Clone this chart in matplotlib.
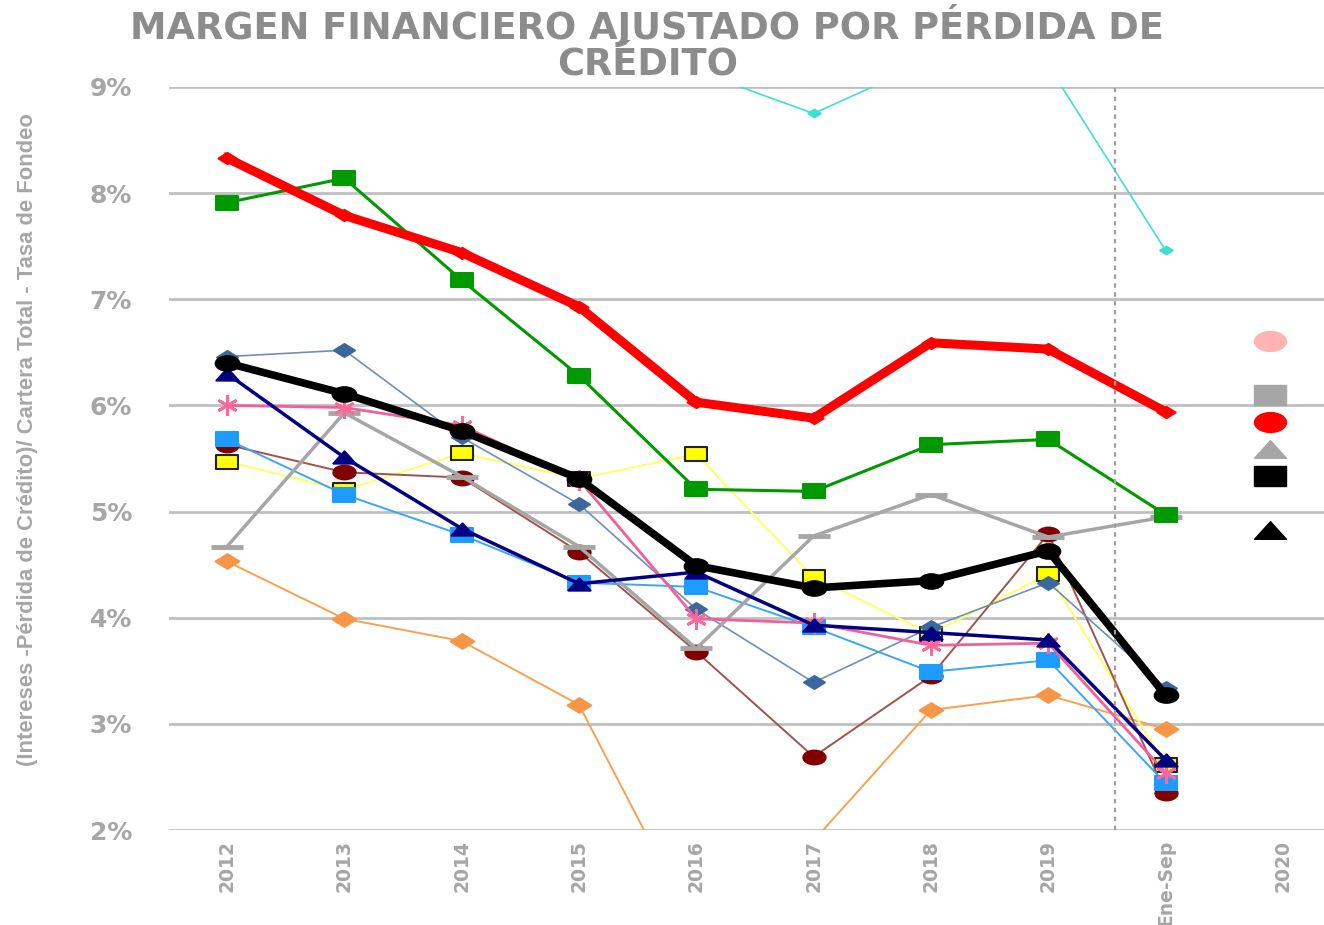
"""Margen financiero ajustado por pérdida de crédito, 2012 - Ene-Sep 2020."""

import matplotlib

matplotlib.use("Agg")
import matplotlib.pyplot as plt
import numpy as np
from matplotlib.lines import Line2D
from matplotlib.path import Path
from matplotlib.ticker import FuncFormatter

# --- data (percent) ---------------------------------------------------------
periods = ["2012", "2013", "2014", "2015", "2016", "2017", "2018", "2019", "Ene-Sep", "2020"]

red = [8.33, 7.79, 7.44, 6.93, 6.03, 5.88, 6.59, 6.53, 5.94]
green = [7.91, 8.14, 7.18, 6.28, 5.21, 5.19, 5.63, 5.68, 4.97]
cyan = [10.5, 10.2, 9.9, 9.6, 9.15, 8.75, 9.25, 9.2, 7.46]
black = [6.40, 6.11, 5.76, 5.31, 4.49, 4.28, 4.35, 4.63, 3.27]
steel = [6.46, 6.52, 5.70, 5.07, 4.08, 3.39, 3.91, 4.33, 3.34]
navy = [6.30, 5.51, 4.84, 4.32, 4.43, 3.93, 3.86, 3.79, 2.66]
pink = [6.00, 5.98, 5.81, 5.30, 3.99, 3.95, 3.74, 3.76, 2.54]
gray = [4.67, 5.93, 5.33, 4.67, 3.71, 4.77, 5.16, 4.76, 4.95]
lightblue = [5.68, 5.16, 4.78, 4.33, 4.29, 3.91, 3.49, 3.60, 2.44]
darkred = [5.63, 5.37, 5.32, 4.62, 3.68, 2.69, 3.45, 4.79, 2.35]
yellow = [5.47, 5.20, 5.55, 5.31, 5.54, 4.38, 3.85, 4.41, 2.61]
orange = [4.53, 3.99, 3.78, 3.18, 1.05, 1.90, 3.13, 3.27, 2.95]

# legend markers whose labels fall outside the picture
legend_colors = ["#ffb3b3", None, "#a6a6a6", "#ff0000", "#a6a6a6", "#000000", None, "#000000"]
legend_shapes = ["o", None, "s", "o", "^", "s", None, "^"]

TXT = "#a6a6a6"
GRID = "#c0c0c0"


def _wide(verts, ratio=0.62):
    v = np.asarray(verts, dtype=float) * [1.0, ratio]
    return Path(v, closed=True)


_circle = Path.unit_circle()
M = {
    "o": Path(_circle.vertices * [1.0, 0.62], _circle.codes),
    "s": _wide([(-1, -1), (1, -1), (1, 1), (-1, 1), (-1, -1)]),
    "D": _wide([(0, -1), (1, 0), (0, 1), (-1, 0), (0, -1)]),
    "^": _wide([(-1, -1), (1, -1), (0, 1), (-1, -1)], 0.55),
}

fig = plt.figure(figsize=(13.24, 9.25), dpi=100)
ax = fig.add_axes([0.128, 0.1027, 0.872, 0.8033])

x = np.arange(len(red))

series = [
    # values, line colour, marker, marker face, edge, ms, lw
    (orange, "#f8a24f", "D", "#f79646", "#f79646", 17, 1.4),
    (yellow, "#ffff66", "s", "#ffff00", "#222222", 16, 1.4),
    (darkred, "#a0524d", "o", "#800000", "#800000", 16, 1.4),
    (lightblue, "#3aa6f5", "s", "#1e9bff", "#1e9bff", 16, 1.4),
    (steel, "#6f8fb8", "D", "#3a689c", "#3a689c", 15, 1.2),
    (gray, "#a6a6a6", "_", "#a6a6a6", "#a6a6a6", 23, 2.5),
    (pink, "#f0609a", (6, 2, 0), "#ff6699", "#ff6699", 15, 2.0),
    (navy, "#000080", "^", "#000080", "#000080", 16, 2.5),
    (green, "#009a00", "s", "#009a00", "#009a00", 16, 2.2),
    (cyan, "#40e0d0", "D", "#40e0d0", "#40e0d0", 9, 1.2),
    (black, "#000000", "o", "#000000", "#000000", 17, 5.5),
    (red, "#ff0000", "D", "#ff0000", "#ff0000", 13, 6.5),
]

for vals, lc, mk, mfc, mec, ms, lw in series:
    marker = M.get(mk, mk) if isinstance(mk, str) else mk
    mew = 3.5 if mk == "_" else (2.0 if not isinstance(mk, str) else 1.5)
    ax.plot(x, vals, color=lc, lw=lw, marker=marker, ms=ms, mfc=mfc, mec=mec,
            mew=mew, solid_joinstyle="round", clip_on=True)

ax.axvline(7.57, color="#a0a0a0", lw=1.6, ls=(0, (2, 2)))

ax.set_xlim(-0.49, 9.35)
ax.set_ylim(2, 9)
ax.set_yticks(np.arange(2, 10, 1))
ax.yaxis.set_major_formatter(FuncFormatter(lambda v, _: f"{v:.0f}%"))
ax.set_xticks(np.arange(len(periods)))
ax.set_xticklabels(periods, rotation=90)
ax.grid(axis="y", color=GRID, lw=2)
ax.set_axisbelow(True)
for s in ax.spines.values():
    s.set_visible(False)
ax.tick_params(axis="both", length=0, colors=TXT)
ax.tick_params(axis="y", pad=27, labelsize=18)
ax.tick_params(axis="x", pad=7, labelsize=13.5)
for lab in ax.get_xticklabels() + ax.get_yticklabels():
    lab.set_fontweight("bold")
    lab.set_color(TXT)

ax.set_ylabel("(Intereses -Pérdida de Crédito)/ Cartera Total - Tasa de Fondeo",
              family=["Liberation Sans", "DejaVu Sans"], fontsize=15.8,
              fontweight="bold", color=TXT)
ax.yaxis.set_label_coords(-0.114, 0.525)

handles = []
for c, shp in zip(legend_colors, legend_shapes):
    if c is None:
        handles.append(Line2D([], [], ls="none"))
    else:
        handles.append(Line2D([], [], ls="none", marker=M[shp], ms=23, mfc=c, mec=c))
ax.legend(handles, [""] * len(handles), loc="upper left", bbox_to_anchor=(0.935, 0.68),
          frameon=False, fontsize=12, labelspacing=0.54, handlelength=1.5,
          handletextpad=0.2, borderpad=0)

fig.text(0.489, 0.996, "MARGEN FINANCIERO AJUSTADO POR PÉRDIDA DE\nCRÉDITO",
         ha="center", va="top", fontsize=26.5, fontweight="bold", color="#8c8c8c",
         linespacing=0.95)

fig.savefig("out.png", dpi=100)
